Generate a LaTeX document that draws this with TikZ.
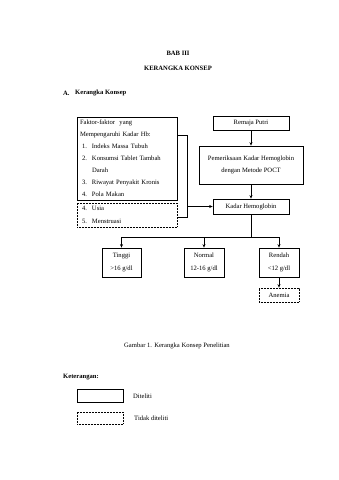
\documentclass[tikz,border=0pt]{standalone}
\usepackage{fontspec}
\setmainfont{Liberation Serif}
\usetikzlibrary{arrows.meta}
\newcommand\fs{\fontsize{6.6}{12}\selectfont}
\begin{document}
\begin{tikzpicture}[x=1pt,y=-1pt,
  every node/.style={font=\fs, inner sep=0pt},
  box/.style={draw, line width=0.7pt},
  dbox/.style={draw, line width=0.7pt, dash pattern=on 0.6pt off 0.9pt},
  ln/.style={line width=0.7pt},
  arr/.style={line width=0.7pt, -{Stealth[length=3.5pt,width=3pt]}}]
\path[use as bounding box, fill=white] (0,0) rectangle (339,480);
% titles
\node[font=\fs\bfseries] (bab) at (178,53) {BAB III};
\node[font=\fs\bfseries] (kk) at (178,68) {KERANGKA KONSEP};
\node[font=\fs\bfseries, anchor=west] (A) at (63,93) {A.};
\node[font=\fs\bfseries, anchor=west] (At) at (75,93) {Kerangka Konsep};
% right column
\node[box, minimum width=76, minimum height=14] (remaja) at (251,123) {Remaja Putri};
\node[box, minimum width=104, minimum height=38, align=center] (periksa) at (251,165) {Pemeriksaan Kadar Hemoglobin\\dengan Metode POCT};
\node[box, minimum width=76, minimum height=15] (kadar) at (251,206.5) {Kadar Hemoglobin};
% left boxes
\node[box, minimum width=100, minimum height=83, align=left, text width=94] (faktor) at (127,158.5)
 {Faktor-faktor\ \ yang\\
  Mempengaruhi Kadar Hb:\\
  \hspace*{2pt}\makebox[10pt][l]{1.}Indeks Massa Tubuh\\
  \hspace*{2pt}\makebox[10pt][l]{2.}Konsumsi Tablet Tambah\\
  \hspace*{12pt}Darah\\
  \hspace*{2pt}\makebox[10pt][l]{3.}Riwayat Penyakit Kronis\\
  \hspace*{2pt}\makebox[10pt][l]{4.}Pola Makan};
\node[dbox, minimum width=100, minimum height=24, align=left, text width=94] (lain) at (127,215)
 {\hspace*{2pt}\makebox[10pt][l]{4.}Usia\\[0.8pt]
  \hspace*{2pt}\makebox[10pt][l]{5.}Menstruasi};
% outcome boxes
\node[box, minimum width=39, minimum height=29, align=center] (tinggi) at (121.5,262.5) {Tinggi\\[0.5pt]\textgreater16 g/dl};
\node[box, minimum width=40, minimum height=29, align=center] (normal) at (204,262.5) {Normal\\[0.5pt]12-16 g/dl};
\node[box, minimum width=40, minimum height=29, align=center] (rendah) at (279,262.5) {Rendah\\[0.5pt]\textless12 g/dl};
\node[dbox, minimum width=40, minimum height=14] (anemia) at (279,295) {Anemia};
% connectors
\coordinate (b1) at (187,135);
\coordinate (b2) at (187,217);
\draw[ln] (faktor.east |- b1) -- (b1) -- (b2) -- (lain.east |- b2);
\draw[arr] (b1 |- kadar) -- (kadar.west);
\draw[arr] (remaja) -- (periksa);
\draw[arr] (periksa) -- (kadar);
\coordinate (j) at (251,237);
\draw[ln] (kadar.south) -- (j);
\draw[ln] (tinggi.north |- j) -- (rendah.north |- j);
\draw[arr] (tinggi.north |- j) -- (tinggi.north);
\draw[arr] (normal.north |- j) -- (normal.north);
\draw[arr] (rendah.north |- j) -- (rendah.north);
\draw[arr] (rendah) -- (anemia);
% caption and legend
\node (cap) at (177,346) {Gambar 1. Kerangka Konsep Penelitian};
\node[font=\fs\bfseries, anchor=west] (ket) at (63,377) {Keterangan:};
\node[box, minimum width=46, minimum height=13] (l1) at (100,395.5) {};
\node[anchor=west] (l1t) at (133,396) {Diteliti};
\node[dbox, minimum width=46, minimum height=12] (l2) at (100,418) {};
\node[anchor=west] (l2t) at (134,418) {Tidak diteliti};
\end{tikzpicture}
\end{document}
